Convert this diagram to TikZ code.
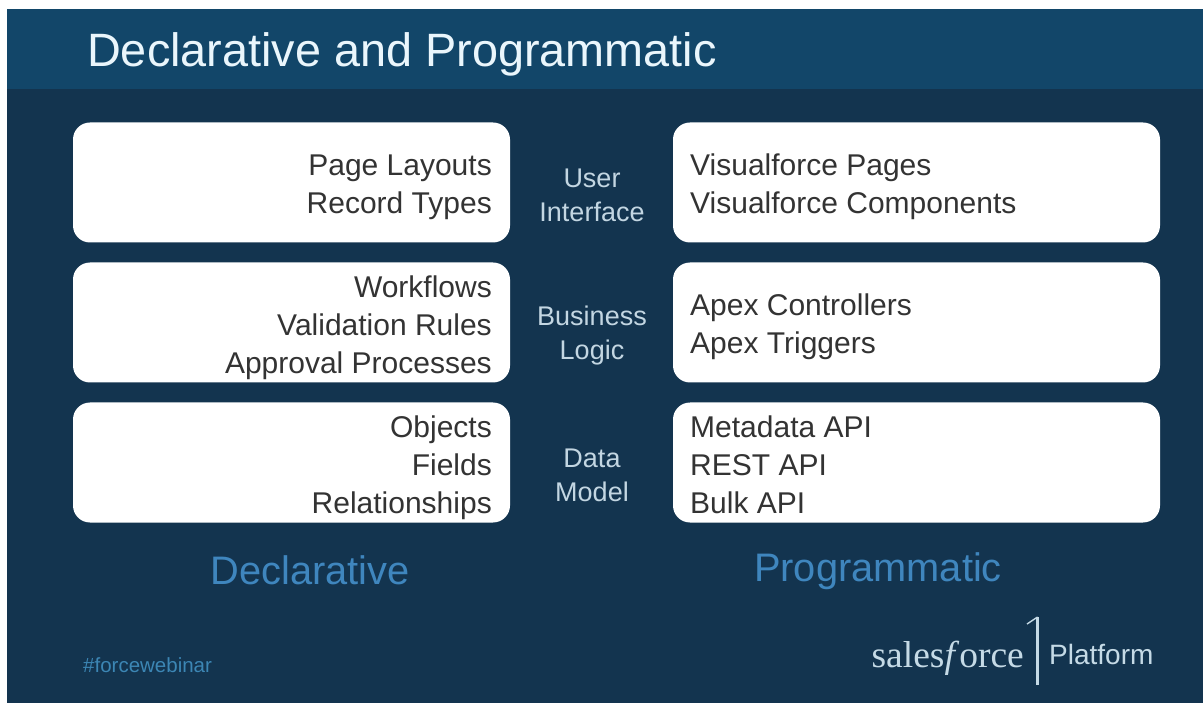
\documentclass[tikz,border=0pt]{standalone}
\usepackage{fontspec}
\setmainfont{Liberation Sans}
\newfontfamily\sfserif{Liberation Serif}
\definecolor{bgdark}{HTML}{13344F}
\definecolor{bghead}{HTML}{124669}
\definecolor{titlec}{HTML}{EAF6FC}
\definecolor{midc}{HTML}{C3D6E2}
\definecolor{bluet}{HTML}{3F86BE}
\definecolor{hashc}{HTML}{3C86B4}
\definecolor{boxtxt}{HTML}{333333}
\definecolor{logoc}{HTML}{C5DAE6}
\tikzset{
 x=1pt,y=-1pt,
 every node/.style={inner sep=0pt},
 panel/.style={fill=white,rounded corners=17pt,draw=none},
 rtext/.style={anchor=east,align=right,text=boxtxt,font=\fontsize{30}{38}\selectfont},
 ltext/.style={anchor=west,align=left,text=boxtxt,font=\fontsize{30}{38}\selectfont},
 midtext/.style={anchor=center,align=center,text=midc,font=\fontsize{27}{34}\selectfont},
 bigtext/.style={anchor=center,text=bluet,font=\fontsize{39.8}{44}\selectfont},
}
\begin{document}
\begin{tikzpicture}
\useasboundingbox (0,0) rectangle (1203,703);
\fill[white] (0,0) rectangle (1203,703);
\fill[bgdark] (7,9) rectangle (1203,703);
\fill[bghead] (7,9) rectangle (1203,89);
\node[anchor=west,text=titlec,font=\fontsize{46.8}{50}\selectfont] (title) at (87,54) {Declarative and Programmatic};
\node[panel,minimum width=437,minimum height=120] (a1) at (291.5,182.5) {};
\node[panel,minimum width=437,minimum height=120] (a2) at (291.5,322.5) {};
\node[panel,minimum width=437,minimum height=120] (a3) at (291.5,462.5) {};
\node[panel,minimum width=487,minimum height=120] (b1) at (916.5,182.5) {};
\node[panel,minimum width=487,minimum height=120] (b2) at (916.5,322.5) {};
\node[panel,minimum width=487,minimum height=120] (b3) at (916.5,462.5) {};
\node[rtext] (t1) at (492,187) {Page Layouts\\Record Types};
\node[rtext] (t2) at (492,328) {Workflows\\Validation Rules\\Approval Processes};
\node[rtext] (t3) at (492,468) {Objects\\Fields\\Relationships};
\node[ltext] (u1) at (690,187) {Visualforce Pages\\Visualforce Components};
\node[ltext] (u2) at (690,326.5) {Apex Controllers\\Apex Triggers};
\node[ltext] (u3) at (690,465) {Metadata API\\REST API\\Bulk API};
\node[midtext] (m1) at (592,195.5) {User\\Interface};
\node[midtext] (m2) at (592,335.5) {Business\\Logic};
\node[midtext] (m3) at (592,475) {Data\\Model};
\node[bigtext] (d) at (310,570) {Declarative};
\node[bigtext] (p) at (878,571) {Programmatic};
\node[anchor=west,text=hashc,font=\fontsize{20.5}{24}\selectfont] (h) at (83,665) {\#forcewebinar};
\node[anchor=base east,text=logoc,font=\sfserif\fontsize{37.5}{40}\selectfont] (sf) at (1024,667) {sales\textit{f}orce};
\coordinate (oneT) at (1037.5,617);
\coordinate (oneB) at (1037.5,685);
\coordinate (oneF) at (1027,624);
\draw[logoc,line width=2.2pt] (oneT) -- (oneB);
\draw[logoc,line width=1.4pt] (oneT) -- (oneF);
\node[anchor=base west,text=logoc,font=\fontsize{28}{30}\selectfont] (pf) at (1049,664) {Platform};
\end{tikzpicture}
\end{document}
